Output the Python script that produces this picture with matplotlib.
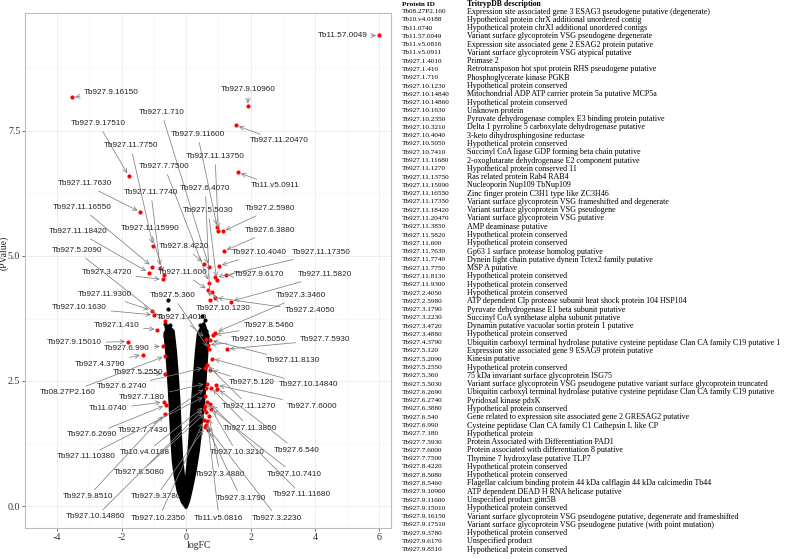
import matplotlib
matplotlib.use("Agg")
import matplotlib.pyplot as plt

plt.rcParams['axes.unicode_minus'] = False

# table on the right
protein_ids = [
    "Tb08.27P2.160", "Tb10.v4.0188", "Tb11.0740", "Tb11.57.0049", "Tb11.v5.0816",
    "Tb11.v5.0911", "Tb927.1.4010", "Tb927.1.410", "Tb927.1.710", "Tb927.10.1230",
    "Tb927.10.14840", "Tb927.10.14860", "Tb927.10.1630", "Tb927.10.2350", "Tb927.10.3210",
    "Tb927.10.4040", "Tb927.10.5050", "Tb927.10.7410", "Tb927.11.11680", "Tb927.11.1270",
    "Tb927.11.13750", "Tb927.11.15990", "Tb927.11.16550", "Tb927.11.17350", "Tb927.11.18420",
    "Tb927.11.20470", "Tb927.11.3850", "Tb927.11.5820", "Tb927.11.600", "Tb927.11.7630",
    "Tb927.11.7740", "Tb927.11.7750", "Tb927.11.8130", "Tb927.11.9300", "Tb927.2.4050",
    "Tb927.2.5980", "Tb927.3.1790", "Tb927.3.2230", "Tb927.3.4720", "Tb927.3.4880",
    "Tb927.4.3790", "Tb927.5.120", "Tb927.5.2090", "Tb927.5.2550", "Tb927.5.360",
    "Tb927.5.5030", "Tb927.6.2690", "Tb927.6.2740", "Tb927.6.3880", "Tb927.6.540",
    "Tb927.6.990", "Tb927.7.180", "Tb927.7.5930", "Tb927.7.6000", "Tb927.7.7500",
    "Tb927.8.4220", "Tb927.8.5080", "Tb927.8.5460", "Tb927.9.10960", "Tb927.9.11600",
    "Tb927.9.15010", "Tb927.9.16150", "Tb927.9.17510", "Tb927.9.3780", "Tb927.9.6170",
    "Tb927.9.8510",
]
descriptions = [
    "Expression site associated gene 3 ESAG3 pseudogene putative (degenerate)",
    "Hypothetical protein chrX additional unordered contig",
    "Hypothetical protein chrXI additional unordered contigs",
    "Variant surface glycoprotein VSG pseudogene degenerate",
    "Expression site associated gene 2 ESAG2 protein putative",
    "Variant surface glycoprotein VSG atypical putative",
    "Primase 2",
    "Retrotransposon hot spot protein RHS pseudogene putative",
    "Phosphoglycerate kinase PGKB",
    "Hypothetical protein conserved",
    "Mitochondrial ADP ATP carrier protein 5a putative MCP5a",
    "Hypothetical protein conserved",
    "Unknown protein",
    "Pyruvate dehydrogenase complex E3 binding protein putative",
    "Delta 1 pyrroline 5 carboxylate dehydrogenase putative",
    "3-keto dihydrosphingosine reductase",
    "Hypothetical protein conserved",
    "Succinyl CoA ligase GDP forming beta chain putative",
    "2-oxoglutarate dehydrogenase E2 component putative",
    "Hypothetical protein conserved 11",
    "Ras related protein Rab4 RAB4",
    "Nucleoporin Nup109 TbNup109",
    "Zinc finger protein C3H1 type like ZC3H46",
    "Variant surface glycoprotein VSG frameshifted and degenerate",
    "Variant surface glycoprotein VSG pseudogene",
    "Variant surface glycoprotein VSG putative",
    "AMP deaminase putative",
    "Hypothetical protein conserved",
    "Hypothetical protein conserved",
    "Gp63 1 surface protease homolog putative",
    "Dynein light chain putative dynein Tctex2 family putative",
    "MSP A putative",
    "Hypothetical protein conserved",
    "Hypothetical protein conserved",
    "Hypothetical protein conserved",
    "ATP dependent Clp protease subunit heat shock protein 104 HSP104",
    "Pyruvate dehydrogenase E1 beta subunit putative",
    "Succinyl CoA synthetase alpha subunit putative",
    "Dynamin putative vacuolar sortin protein 1 putative",
    "Hypothetical protein conserved",
    "Ubiquitin carboxyl terminal hydrolase putative cysteine peptidase Clan CA family C19 putative 1",
    "Expression site associated gene 9 ESAG9 protein putative",
    "Kinesin putative",
    "Hypothetical protein conserved",
    "75 kDa invariant surface glycoprotein ISG75",
    "Variant surface glycoprotein VSG pseudogene putative variant surface glycoprotein truncated",
    "Ubiquitin carboxyl terminal hydrolase putative cysteine peptidase Clan CA family C19 putative",
    "Pyridoxal kinase pdxK",
    "Hypothetical protein conserved",
    "Gene related to expression site associated gene 2 GRESAG2 putative",
    "Cysteine peptidase Clan CA family C1 Cathepsin L like CP",
    "Hypothetical protein",
    "Protein Associated with Differentiation PAD1",
    "Protein associated with differentiation 8 putative",
    "Thymine 7 hydroxylase putative TLP7",
    "Hypothetical protein conserved",
    "Hypothetical protein conserved",
    "Flagellar calcium binding protein 44 kDa calflagin 44 kDa calcimedin Tb44",
    "ATP dependent DEAD H RNA helicase putative",
    "Unspecified product gim5B",
    "Hypothetical protein conserved",
    "Variant surface glycoprotein VSG pseudogene putative, degenerate and frameshifted",
    "Variant surface glycoprotein VSG pseudogene putative (with point mutation)",
    "Hypothetical protein conserved",
    "Unspecified product",
    "Hypothetical protein conserved",
]

# significant (red) proteins: logFC and -log10(p)
sig_names = [
    "Tb11.57.0049", "Tb927.9.16150", "Tb927.9.10960", "Tb927.11.20470", "Tb927.9.17510",
    "Tb927.1.710", "Tb927.11.7750", "Tb927.9.11600", "Tb927.11.13750", "Tb11.v5.0911",
    "Tb927.7.7500", "Tb927.11.7630", "Tb927.6.4070", "Tb927.11.7740", "Tb927.11.16550",
    "Tb927.5.5030", "Tb927.2.5980", "Tb927.11.15990", "Tb927.6.3880", "Tb927.11.18420",
    "Tb927.8.4220", "Tb927.5.2090", "Tb927.10.4040", "Tb927.11.17350", "Tb927.11.600",
    "Tb927.9.6170", "Tb927.11.5820", "Tb927.3.4720", "Tb927.11.9300", "Tb927.5.360",
    "Tb927.3.3460", "Tb927.10.1230", "Tb927.2.4050", "Tb927.10.1630", "Tb927.1.4010",
    "Tb927.8.5460", "Tb927.1.410", "Tb927.10.5050", "Tb927.7.5930", "Tb927.9.15010",
    "Tb927.6.990", "Tb927.11.8130", "Tb927.4.3790", "Tb927.5.2550", "Tb927.5.120",
    "Tb927.10.14840", "Tb927.6.2740", "Tb08.27P2.160", "Tb927.7.180", "Tb927.11.1270",
    "Tb927.7.6000", "Tb11.0740", "Tb927.11.3850", "Tb927.7.7430", "Tb927.6.2690",
    "Tb927.6.540", "Tb927.10.3210", "Tb10.v4.0188", "Tb927.11.10380", "Tb927.8.5080",
    "Tb927.10.7410", "Tb927.3.4880", "Tb927.11.11680", "Tb927.9.8510", "Tb927.9.3780",
    "Tb927.3.1790", "Tb927.10.14860", "Tb927.10.2350", "Tb11.v5.0816", "Tb927.3.2230",
]
sig_logfc = [
    5.99, -3.54, 1.91, 1.55, -1.78, 0.71, -1.02, 0.97, 1.00, 1.61,
    0.72, -1.42, 0.74, -0.80, -1.06, 0.95, 1.14, -0.69, 1.17, -1.16,
    0.57, -0.64, 1.02, 0.91, 0.69, 1.23, 1.38, -0.72, -1.07, 0.71,
    0.91, 0.79, 0.89, -0.99, 0.62, 0.84, -0.89, 0.67, 1.26, -1.80,
    -0.72, 0.74, -1.34, -0.67, 0.74, 0.79, 0.59, -0.64, 0.64, 0.64,
    0.94, -0.70, 0.77, 0.61, -0.62, 0.97, 0.64, 0.58, 0.60, 0.63,
    0.77, 0.71, 0.74, -0.66, 0.60, 0.69, 0.57, 0.56, 0.66, 0.62,
]
sig_nlp = [
    9.41, 8.17, 7.99, 7.61, 6.60, 4.79, 5.19, 5.57, 5.50, 6.67,
    4.47, 5.88, 4.13, 4.76, 4.79, 4.52, 5.49, 4.62, 5.10, 4.67,
    4.85, 3.70, 4.80, 4.57, 4.32, 4.61, 4.09, 4.53, 3.91, 3.14,
    3.47, 4.29, 4.17, 3.82, 3.35, 3.42, 3.53, 3.22, 3.14, 3.29,
    3.20, 3.32, 3.03, 2.64, 2.73, 2.95, 2.77, 3.00, 2.45, 2.83,
    2.42, 2.08, 2.37, 2.36, 2.02, 2.35, 2.09, 2.00, 2.20, 1.88,
    1.95, 1.80, 2.05, 1.84, 1.58, 1.52, 1.95, 1.72, 1.70, 1.62,
]
# where each repelled label sits (data units)
label_x = [
    4.85, -2.32, 1.94, 2.89, -2.72, -0.76, -1.72, 0.36, 0.90, 2.77,
    -0.67, -3.15, 0.60, -1.09, -3.23, 0.69, 2.62, -1.12, 2.62, -3.34,
    -0.05, -3.40, 2.26, 4.20, -0.11, 2.26, 4.31, -2.45, -2.51, -0.41,
    3.55, 1.14, 3.84, -3.31, -0.14, 2.56, -2.16, 2.26, 4.31, -3.46,
    -1.83, 3.31, -2.66, -1.50, 2.03, 3.81, -1.98, -3.67, -1.36, 1.94,
    3.90, -2.42, 1.97, -1.33, -2.93, 3.42, 1.58, -1.27, -3.11, -1.45,
    3.36, 1.05, 3.60, -3.05, -0.94, 1.70, -2.81, -0.85, 1.02, 2.83,
]
label_y = [
    9.40, 8.28, 8.32, 7.30, 7.64, 7.86, 7.20, 7.42, 6.98, 6.40,
    6.78, 6.44, 6.34, 6.26, 5.96, 5.90, 5.94, 5.54, 5.50, 5.48,
    5.18, 5.10, 5.06, 5.06, 4.66, 4.62, 4.62, 4.66, 4.22, 4.20,
    4.20, 3.94, 3.90, 3.96, 3.76, 3.60, 3.60, 3.32, 3.32, 3.26,
    3.14, 2.90, 2.84, 2.66, 2.46, 2.42, 2.38, 2.26, 2.16, 2.00,
    2.00, 1.94, 1.56, 1.50, 1.42, 1.12, 1.06, 1.06, 0.98, 0.66,
    0.64, 0.64, 0.22, 0.18, 0.18, 0.16, -0.22, -0.24, -0.24, -0.24,
]

# non-significant proteins: outline of the dense V cloud, plus loose points at its tips
cloud_x = [0.00, -0.12, -0.25, -0.34, -0.40, -0.44, -0.48, -0.52, -0.57, -0.62, -0.66, -0.55,
           -0.40, -0.33, -0.27, -0.22, -0.18, -0.14, -0.08, -0.01,
           0.05, 0.10, 0.15, 0.21, 0.27, 0.32, 0.38, 0.55,
           0.68, 0.64, 0.60, 0.55, 0.47, 0.38, 0.28, 0.17, 0.08]
cloud_y = [-0.03, 0.08, 0.30, 0.60, 0.90, 1.30, 1.80, 2.30, 2.80, 3.20, 3.45, 3.60,
           3.50, 3.10, 2.60, 2.10, 1.50, 1.00, 0.60, 0.45,
           0.80, 1.20, 1.70, 2.20, 2.70, 3.10, 3.45, 3.65,
           3.40, 3.00, 2.60, 2.10, 1.60, 1.10, 0.70, 0.35, 0.10]
loose_x = [-0.55, -0.57, -0.64, -0.59, -0.62, -0.66, -0.50, 0.44, 0.59, 0.52, 0.62, 0.66, 0.48]
loose_y = [4.12, 3.95, 3.65, 3.49, 3.58, 3.40, 3.62, 3.62, 3.72, 3.55, 3.50, 3.40, 3.80]

fig = plt.figure(figsize=(7.89, 5.59), dpi=100)
ax = fig.add_axes([25 / 789, 1 - 528 / 559, 366 / 789, 515 / 559])

ax.fill(cloud_x, cloud_y, color='black', lw=2.2, ec='black', joinstyle='round', zorder=2)
ax.scatter(loose_x, loose_y, s=9, color='black', lw=0, zorder=2)
ax.scatter(sig_logfc, sig_nlp, s=9, color='#ff0000', lw=0, zorder=3)

for name, x, y, lx, ly in zip(sig_names, sig_logfc, sig_nlp, label_x, label_y):
    ax.annotate(name, xy=(x, y), xytext=(lx, ly), ha='center', va='center',
                fontsize=5.9, family='Liberation Sans', color='#222222', zorder=5,
                arrowprops=dict(arrowstyle='->,head_length=0.5,head_width=0.25',
                                color='#808080', lw=0.55, shrinkA=1, shrinkB=2.2))

ax.set_xlim(-4.5, 6.36)
ax.set_ylim(-0.44, 9.86)
ax.set_xticks([-4, -2, 0, 2, 4, 6])
ax.set_yticks([0, 2.5, 5, 7.5])
ax.set_yticklabels(['0.0', '2.5', '5.0', '7.5'])
ax.set_xticks([-5, -3, -1, 1, 3, 5], minor=True)
ax.set_yticks([1.25, 3.75, 6.25, 8.75], minor=True)
ax.grid(which='major', color='#ebebeb', lw=0.6)
ax.grid(which='minor', color='#f4f4f4', lw=0.4)
ax.set_axisbelow(True)
for sp in ax.spines.values():
    sp.set_color('#bdbdbd')
    sp.set_linewidth(0.8)
ax.tick_params(which='major', length=2.2, width=0.5, color='#333333', labelsize=7.2,
               labelcolor='#333333', pad=1.2)
ax.tick_params(which='minor', length=0)
for t in ax.get_xticklabels() + ax.get_yticklabels():
    t.set_family('Liberation Serif')

fig.text(199 / 789, 1 - 545 / 559, 'logFC', ha='center', va='center',
         family='Liberation Serif', fontsize=7, color='#222222')
fig.text(3.8 / 789, 1 - 253 / 559, '(PValue)', ha='center', va='center', rotation=90,
         family='Liberation Serif', fontsize=7, color='#222222')

# table
fig.text(401.7 / 789, 1 - 4.5 / 559, 'Protein ID', ha='left', va='center',
         family='Liberation Serif', fontsize=5.2, weight='bold')
fig.text(466.7 / 789, 1 - 4.5 / 559, 'TritrypDB description', ha='left', va='center',
         family='Liberation Serif', fontsize=5.6, weight='bold')
for i, (pid, desc) in enumerate(zip(protein_ids, descriptions)):
    yy = 1 - (11.5 + 8.28 * i) / 559
    fig.text(401.7 / 789, yy, pid, ha='left', va='center', family='Liberation Serif', fontsize=5.2)
    fig.text(466.7 / 789, yy, desc, ha='left', va='center', family='Liberation Serif', fontsize=5.8)

fig.savefig('out.png', dpi=100)
